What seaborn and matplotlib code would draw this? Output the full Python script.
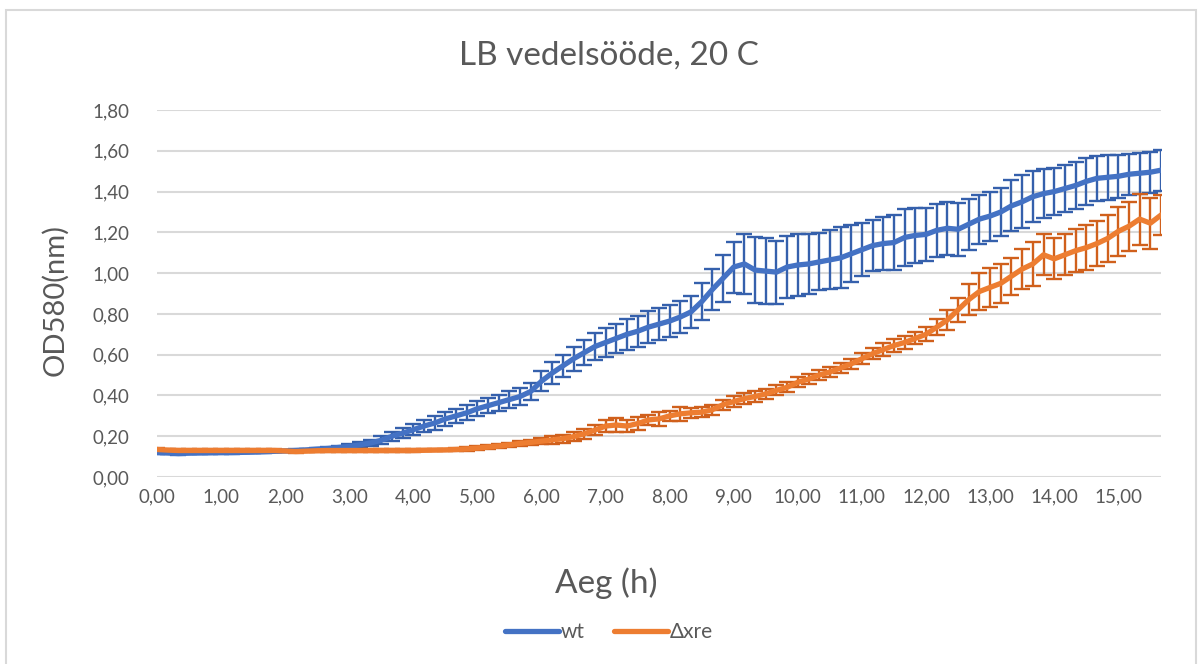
import numpy as np
import pandas as pd
import matplotlib
matplotlib.use("Agg")
import matplotlib.pyplot as plt
from matplotlib.patches import Rectangle
import seaborn as sns

# time points every 10 minutes (hours)
aeg = [i / 6 for i in range(95)]

# mean OD580 for the wild type
wt = [0.120, 0.118, 0.115, 0.117, 0.118, 0.119, 0.120, 0.120, 0.121, 0.122,
      0.124, 0.126, 0.128, 0.130, 0.133, 0.137, 0.140, 0.145, 0.150, 0.158,
      0.167, 0.180, 0.200, 0.215, 0.232, 0.250, 0.265, 0.285, 0.300, 0.315,
      0.335, 0.350, 0.365, 0.380, 0.395, 0.420, 0.470, 0.510, 0.545, 0.580,
      0.610, 0.640, 0.660, 0.680, 0.700, 0.715, 0.735, 0.750, 0.765, 0.785,
      0.810, 0.860, 0.920, 0.975, 1.030, 1.045, 1.015, 1.010, 1.005, 1.030,
      1.040, 1.045, 1.055, 1.065, 1.075, 1.095, 1.115, 1.135, 1.145, 1.150,
      1.175, 1.185, 1.190, 1.210, 1.220, 1.215, 1.240, 1.265, 1.280, 1.300,
      1.330, 1.350, 1.375, 1.390, 1.400, 1.415, 1.430, 1.450, 1.465, 1.470,
      1.475, 1.485, 1.490, 1.495, 1.505]

wt_sd = [0.005, 0.005, 0.005, 0.005, 0.005, 0.005, 0.005, 0.005, 0.005, 0.005,
         0.005, 0.005, 0.005, 0.005, 0.005, 0.005, 0.005, 0.005, 0.010, 0.012,
         0.015, 0.020, 0.022, 0.025, 0.028, 0.030, 0.032, 0.035, 0.036, 0.037,
         0.038, 0.038, 0.039, 0.040, 0.040, 0.040, 0.050, 0.055, 0.055, 0.060,
         0.060, 0.065, 0.070, 0.070, 0.075, 0.075, 0.080, 0.080, 0.080, 0.080,
         0.080, 0.090, 0.100, 0.115, 0.125, 0.145, 0.160, 0.160, 0.155, 0.150,
         0.150, 0.145, 0.140, 0.145, 0.150, 0.140, 0.130, 0.125, 0.130, 0.135,
         0.140, 0.135, 0.130, 0.130, 0.130, 0.130, 0.125, 0.120, 0.120, 0.120,
         0.125, 0.130, 0.125, 0.120, 0.115, 0.115, 0.115, 0.115, 0.110, 0.110,
         0.105, 0.100, 0.100, 0.100, 0.100]

# mean OD580 for the deletion mutant
dxre = [0.135, 0.132, 0.130, 0.130, 0.130, 0.130, 0.130, 0.130, 0.130, 0.130,
        0.130, 0.130, 0.128, 0.125, 0.127, 0.129, 0.130, 0.130, 0.130, 0.130,
        0.130, 0.130, 0.130, 0.130, 0.130, 0.131, 0.132, 0.133, 0.135, 0.138,
        0.142, 0.147, 0.152, 0.158, 0.165, 0.170, 0.176, 0.182, 0.188, 0.198,
        0.212, 0.230, 0.250, 0.255, 0.250, 0.262, 0.280, 0.285, 0.300, 0.310,
        0.315, 0.318, 0.330, 0.355, 0.370, 0.385, 0.395, 0.408, 0.425, 0.440,
        0.465, 0.480, 0.500, 0.515, 0.535, 0.555, 0.580, 0.605, 0.625, 0.645,
        0.660, 0.680, 0.700, 0.735, 0.770, 0.820, 0.870, 0.910, 0.930, 0.950,
        0.985, 1.020, 1.045, 1.090, 1.070, 1.090, 1.110, 1.125, 1.145, 1.170,
        1.205, 1.230, 1.265, 1.245, 1.285]

dxre_sd = [0.005, 0.005, 0.005, 0.005, 0.005, 0.005, 0.005, 0.005, 0.005, 0.005,
           0.005, 0.005, 0.005, 0.005, 0.005, 0.005, 0.005, 0.005, 0.005, 0.005,
           0.005, 0.005, 0.005, 0.005, 0.005, 0.005, 0.005, 0.005, 0.005, 0.008,
           0.009, 0.010, 0.010, 0.011, 0.012, 0.012, 0.015, 0.018, 0.020, 0.022,
           0.025, 0.025, 0.028, 0.035, 0.028, 0.030, 0.025, 0.035, 0.025, 0.035,
           0.025, 0.025, 0.025, 0.025, 0.025, 0.025, 0.025, 0.025, 0.025, 0.025,
           0.025, 0.025, 0.025, 0.025, 0.025, 0.025, 0.028, 0.028, 0.030, 0.030,
           0.030, 0.030, 0.035, 0.040, 0.050, 0.060, 0.075, 0.090, 0.095, 0.095,
           0.090, 0.100, 0.110, 0.100, 0.100, 0.100, 0.105, 0.110, 0.110, 0.115,
           0.120, 0.120, 0.125, 0.125, 0.100]

series = ["wt", "Δxre"]
line_colors = ["#4472C4", "#ED7D31"]
err_colors = ["#3560AC", "#D0601C"]

x_ticks = list(range(16))
y_ticks = [0.0, 0.2, 0.4, 0.6, 0.8, 1.0, 1.2, 1.4, 1.6, 1.8]


def comma(v):
    return f"{v:.2f}".replace(".", ",")


sns.set_style("white")
plt.rcParams["font.family"] = ["Lato", "DejaVu Sans"]
grey = "#595959"

df = pd.DataFrame({
    "Aeg": aeg * 2,
    "OD": wt + dxre,
    "Tüvi": [series[0]] * len(aeg) + [series[1]] * len(aeg),
})

fig = plt.figure(figsize=(12.01, 6.64), dpi=100)
ax = fig.add_axes([0.1307, 0.2816, 0.8360, 0.5527])

# error bars under each line, second series on top of the first
for k, (mean, sd) in enumerate([(wt, wt_sd), (dxre, dxre_sd)]):
    ax.errorbar(aeg, mean, yerr=sd, fmt="none", ecolor=err_colors[k],
                elinewidth=1.7, capsize=6, capthick=1.7, zorder=2 + 2 * k)

sns.lineplot(data=df, x="Aeg", y="OD", hue="Tüvi", hue_order=series,
             palette=line_colors, linewidth=3.8, ax=ax, legend=False)
for k, ln in enumerate(ax.get_lines()):
    ln.set_zorder(3 + 2 * k)
    ln.set_solid_capstyle("round")
    ln.set_solid_joinstyle("round")

ax.set_xlim(0, aeg[-1])
ax.set_ylim(0, 1.8)
ax.set_xticks(x_ticks)
ax.set_xticklabels([comma(v) for v in x_ticks])
ax.set_yticks(y_ticks)
ax.set_yticklabels([comma(v) for v in y_ticks])
ax.tick_params(axis="both", length=0, labelsize=13.5, labelcolor=grey)
ax.tick_params(axis="y", pad=20)
ax.tick_params(axis="x", pad=8)
ax.yaxis.grid(True, color="#D9D9D9", linewidth=1.5, zorder=0)
ax.xaxis.grid(False)
ax.set_axisbelow(True)
for s in ax.spines.values():
    s.set_visible(False)

ax.set_xlabel("Aeg (h)", fontsize=24, color=grey)
ax.xaxis.label.set_va("center")
ax.xaxis.set_label_coords(0.505, 0.122, transform=fig.transFigure)
ax.set_ylabel("OD580(nm)", fontsize=21, color=grey)
ax.yaxis.label.set_va("center")
ax.yaxis.set_label_coords(0.046, 0.548, transform=fig.transFigure)

fig.text(0.507, 0.917, "LB vedelsööde, 20 C", ha="center", va="center",
         fontsize=24, color=grey)

handles = [plt.Line2D([], [], color=c, linewidth=3.8, solid_capstyle="round")
           for c in line_colors]
fig.legend(handles, series, loc="center", bbox_to_anchor=(0.507, 0.048),
           ncol=2, frameon=False, fontsize=15, labelcolor=grey,
           handlelength=2.6, handletextpad=0.1, columnspacing=1.4)

# light chart-area border like the spreadsheet export
fig.patches.append(Rectangle((0.005, -0.05), 0.991, 1.035,
                             transform=fig.transFigure, fill=False,
                             edgecolor="#D9D9D9", linewidth=1.5))

fig.savefig("out.png", dpi=100)
